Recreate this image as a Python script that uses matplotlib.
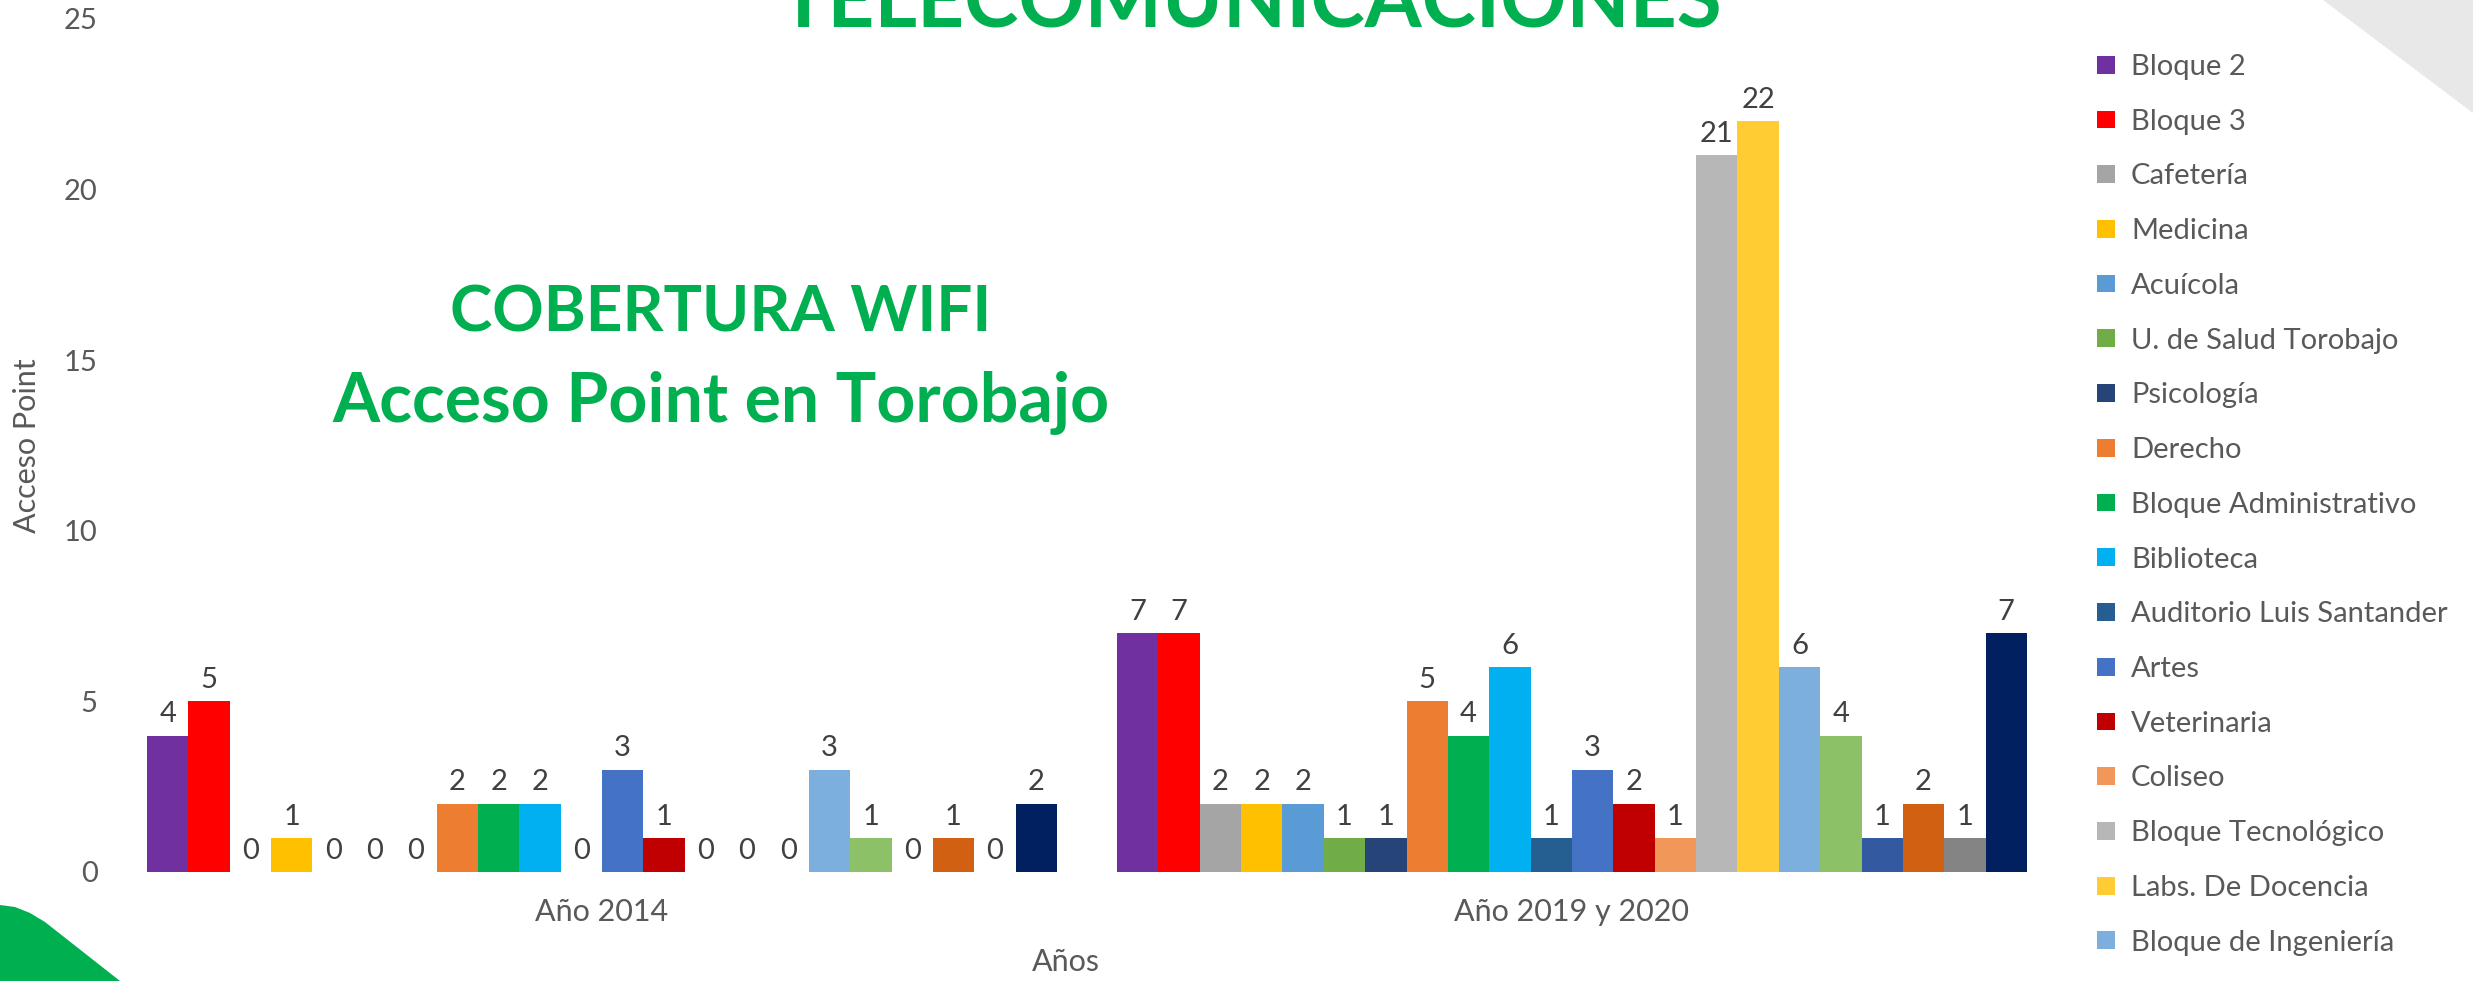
import matplotlib
matplotlib.use("Agg")
import matplotlib.pyplot as plt
import numpy as np
from matplotlib.patches import Polygon

plt.rcParams['font.family'] = ['Lato', 'DejaVu Sans']

# data
categories = ["Año 2014", "Año 2019 y 2020"]
edificios = ["Bloque 2", "Bloque 3", "Cafetería", "Medicina", "Acuícola",
             "U. de Salud Torobajo", "Psicología", "Derecho",
             "Bloque Administrativo", "Biblioteca", "Auditorio Luis Santander",
             "Artes", "Veterinaria", "Coliseo", "Bloque Tecnológico",
             "Labs. De Docencia", "Bloque de Ingeniería",
             "Serie 18", "Serie 19", "Serie 20", "Serie 21", "Serie 22"]
ap_2014 = [4, 5, 0, 1, 0, 0, 0, 2, 2, 2, 0, 3, 1, 0, 0, 0, 3, 1, 0, 1, 0, 2]
ap_2019 = [7, 7, 2, 2, 2, 1, 1, 5, 4, 6, 1, 3, 2, 1, 21, 22, 6, 4, 1, 2, 1, 7]
colores = ["#7030A0", "#FF0000", "#A5A5A5", "#FFC000", "#5B9BD5", "#70AD47",
           "#264478", "#ED7D31", "#00B050", "#00B0F0", "#255E91", "#4472C4",
           "#C00000", "#F1975A", "#B7B7B7", "#FFCD33", "#7CAFDD", "#8CC168",
           "#335AA1", "#D26012", "#848484", "#002060"]

W, H = 2473, 981
fig = plt.figure(figsize=(W / 100, H / 100), dpi=100)

# background decorations
bg = fig.add_axes([0, 0, 1, 1], zorder=-1)
bg.set_xlim(0, W)
bg.set_ylim(H, 0)
bg.axis("off")
bg.add_patch(Polygon([(2323, 0), (W, 0), (W, 113)], closed=True,
                     facecolor="#E8E8E8", edgecolor="none"))
bg.add_patch(Polygon([(0, 905), (15, 907), (30, 913), (45, 922), (120, 981), (0, 981)],
                     closed=True, facecolor="#00B050", edgecolor="none"))

gris = "#595959"
ax = fig.add_axes([117 / W, 109 / H, (2057 - 117) / W, (872 - 19) / H])
ax.patch.set_alpha(0)

n = len(edificios)
ancho = 0.938 / n
x = np.arange(len(categories))
for i in range(n):
    pos = x - 0.469 + ancho * (i + 0.5)
    b = ax.bar(pos, [ap_2014[i], ap_2019[i]], ancho, color=colores[i],
               label=edificios[i])
    ax.bar_label(b, padding=6, fontsize=21, color="#404040")

ax.set_xlim(-0.5, 1.5)
ax.set_ylim(0, 25)
ax.set_yticks(range(0, 26, 5))
ax.set_xticks(x)
ax.set_xticklabels(categories)
ax.tick_params(axis="y", length=0, pad=14, labelsize=21, labelcolor=gris)
ax.tick_params(axis="x", length=0, pad=19, labelsize=22, labelcolor=gris)
for s in ax.spines.values():
    s.set_visible(False)

fig.text(27 / W, 1 - 446 / H, "Acceso Point", rotation=90, ha="center",
         va="center", fontsize=22, color=gris)
fig.text(1066 / W, 1 - 962 / H, "Años", ha="center", va="center",
         fontsize=22, color=gris)

verde = "#00B050"
fig.text(1251 / W, 1 - 27 / H, "TELECOMUNICACIONES", ha="center",
         va="baseline", fontsize=59, fontweight="bold", color=verde)
fig.text(721 / W, 1 - 332 / H, "COBERTURA WIFI", ha="center", va="baseline",
         fontsize=46, fontweight="bold", color=verde)
fig.text(721 / W, 1 - 422 / H, "Acceso Point en Torobajo", ha="center",
         va="baseline", fontsize=49, fontweight="bold", color=verde)

fig.legend(loc="upper left", bbox_to_anchor=(2097 / W, 1 - 54 / H),
           frameon=False, fontsize=21, labelcolor=gris, handlelength=0.62,
           handleheight=0.56, handletextpad=0.55, labelspacing=0.985,
           borderpad=0, borderaxespad=0)

fig.savefig("out.png", dpi=100)
